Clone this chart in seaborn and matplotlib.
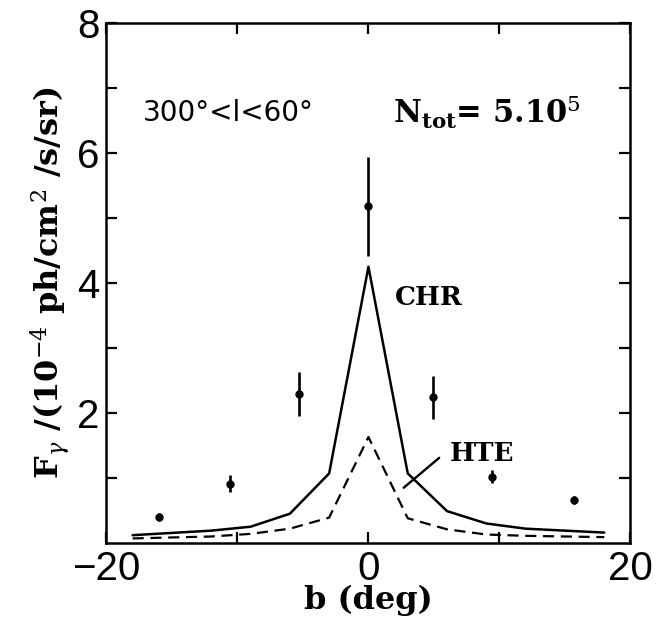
import numpy as np
import matplotlib
matplotlib.use("Agg")
import matplotlib.pyplot as plt
import seaborn as sns

# data
b_obs = [-16.0, -10.6, -5.3, 0.0, 4.9, 9.4, 15.7]
f_obs = [0.40, 0.91, 2.29, 5.18, 2.24, 1.02, 0.66]
f_err = [0.06, 0.13, 0.34, 0.76, 0.33, 0.10, 0.06]

b_chr = [-18, -12, -9, -6, -3, 0, 3, 6, 9, 12, 18]
f_chr = [0.12, 0.19, 0.25, 0.45, 1.07, 4.25, 1.07, 0.49, 0.30, 0.22, 0.16]

b_hte = [-18, -12, -9, -6, -3, 0, 3, 6, 9, 12, 18]
f_hte = [0.07, 0.10, 0.14, 0.22, 0.39, 1.63, 0.38, 0.21, 0.13, 0.11, 0.09]

sns.set_style("ticks")
plt.rcParams["font.family"] = ["DejaVu Sans"]
plt.rcParams["mathtext.fontset"] = "dejavuserif"
for key in ["text.color", "axes.labelcolor", "xtick.color", "ytick.color"]:
    plt.rcParams[key] = "black"

fig = plt.figure(figsize=(6.57, 6.27), dpi=100)
ax = fig.add_axes([0.162, 0.134, 0.7976, 0.8293])

sns.lineplot(x=b_chr, y=f_chr, ax=ax, color="black", lw=1.8)
sns.lineplot(x=b_hte, y=f_hte, ax=ax, color="black", lw=1.6, linestyle=(0, (5, 3)))
ax.errorbar(b_obs, f_obs, yerr=f_err, fmt="o", color="black", ms=5, elinewidth=1.9, capsize=0)

ax.set_xlim(-20, 20)
ax.set_ylim(0, 8)
ax.set_xticks([-20, -10, 0, 10, 20])
ax.set_xticklabels(["\u221220", "", "0", "", "20"])
ax.set_yticks([1, 2, 3, 4, 5, 6, 7, 8])
ax.set_yticklabels(["", "2", "", "4", "", "6", "", "8"])
ax.tick_params(direction="in", length=8, width=1.6, top=True, right=True,
               labelsize=29, pad=5)
for lab in ax.get_xticklabels() + ax.get_yticklabels():
    lab.set_family("Liberation Sans")
for s in ax.spines.values():
    s.set_linewidth(1.8)
    s.set_color("black")

serif = dict(family="DejaVu Serif", fontweight="bold")
ax.set_xlabel("b (deg)", fontsize=23, labelpad=-2, **serif)
ax.set_ylabel(r"F$_\gamma$ /(10$^{-4}$ ph/cm$^2$ /s/sr)", fontsize=23, labelpad=4, **serif)

ax.text(-17.24, 6.62, "300\u00b0<l<60\u00b0", fontsize=20, va="center", ha="left")
ax.text(1.87, 6.62, r"N$_{\mathbf{tot}}$= 5.10$^5$", fontsize=22, va="center", ha="left", **serif)
ax.text(2.0, 3.77, "CHR", fontsize=19, va="center", ha="left", **serif)
ax.text(6.22, 1.38, "HTE", fontsize=19, va="center", ha="left", **serif)
ax.plot([2.69, 5.40], [0.85, 1.31], color="black", lw=1.7)

fig.savefig("out.png", dpi=100)
